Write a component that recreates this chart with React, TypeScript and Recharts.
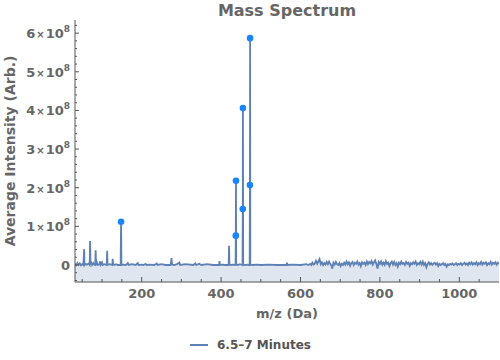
import React from 'react';
import { ComposedChart, Area, Scatter, XAxis, YAxis } from 'recharts';

// intensities in units of 1e6 (Arb.)
const lowMassSignal: [number, number][] = [
  [32, 3], [35, -1], [38, 5], [41, 0], [44, 4], [47, -1], [50, 2],
  [53, 0], [55, 41], [56, 0], [58, 3], [62, 1], [66, 4],
  [69, 0], [70, 62], [71, 2], [73, 6], [75, 0], [78, 5], [80, 1],
  [83, 0], [84, 38], [85, 0], [87, 7], [89, 0],
  [93, 1], [95, 9], [97, 1], [100, 7], [102, 0], [106, 2],
  [112, 0], [113, 37], [114, 2], [117, 1], [120, 2],
  [126, 0], [127, 16], [128, 4], [131, 0], [136, 2], [140, 0],
  [147, 0], [148, 112], [149, 0], [153, 1], [160, 0], [165, 5], [167, 0],
  [175, 2], [185, 0], [190, 5], [192, 0], [200, 1], [205, 0], [210, 3], [212, 0],
  [220, 1], [232, 0], [238, 4], [240, 0], [250, 2], [260, 0],
  [273, 0], [275, 18], [276, 5], [278, 1], [282, 0], [290, 3], [295, 6], [297, 0],
  [310, 2], [330, 0], [335, 4], [337, 0], [345, 3], [350, 0], [365, 2], [380, 0],
];

const peakClusterSignal: [number, number][] = [
  [395, 0], [396, 10], [397, 0], [405, 1], [410, 0],
  [419, 0], [420, 50], [421, 2], [424, 0], [430, 1],
  [436.5, 0], [437, 76], [437.5, 218], [438, 3], [440, 1], [443, 0], [447, 2],
  [454, 0], [454.6, 145], [455, 406], [455.6, 0], [458, 1], [462, 0], [466, 1], [470, 0],
  [472, 0], [472.6, 207], [473, 587], [473.6, 0], [476, 1], [480, 0], [490, 1], [500, 0],
  [520, 1], [540, 0], [555, 0], [565, 0], [566, 6], [567, 0], [580, 1], [600, 0], [615, 2], [620, 0],
];

const highMassNoise: [number, number][] = [
  [624, 3], [627, 0], [630, 6], [633, 1], [636, 4], [639, 11], [642, 3], [645, 9], [648, 15], [651, 2],
  [654, 7], [657, 0], [660, 5], [663, 1], [666, 8], [669, 2], [672, 9], [675, 3], [678, -2], [680, -9],
  [683, 6], [686, 1], [689, 8], [692, 2], [695, 0], [698, 5], [701, -3], [704, 3], [707, 0], [710, 6],
  [713, 1], [716, 9], [719, 2], [722, 7], [725, -2], [728, 5], [731, 8], [734, 0], [737, 6], [740, 3],
  [743, 9], [746, 1], [749, 5], [752, -3], [755, 7], [758, 3], [761, 6], [764, 0], [767, 9], [770, 2],
  [773, 8], [776, 4], [779, 10], [782, 1], [785, 7], [788, 12], [791, 3], [794, -9], [797, 8], [800, 3],
  [803, 9], [806, 1], [809, 6], [812, 0], [815, 10], [818, 3], [821, 6], [824, -3], [827, 5], [830, 9],
  [833, 1], [836, 8], [839, 0], [842, 5], [845, -4], [848, 6], [851, 2], [854, 9], [857, 3], [860, 5],
  [863, 0], [866, 8], [869, 3], [872, 6], [875, -2], [878, 5], [881, 2], [884, 7], [887, 3], [890, 9],
  [893, 0], [896, 5], [899, 2], [902, 8], [905, 1], [908, 9], [911, 0], [914, 5], [917, -6], [920, 3],
  [923, 7], [926, 1], [929, 5], [932, 0], [935, 4], [938, 6], [941, 1], [944, 5], [947, -3], [950, 3],
  [953, 0], [956, 2], [959, 5], [962, 0], [965, 3], [968, -4], [971, 2], [974, 0], [977, 3], [980, 1],
  [983, 4], [986, 0], [989, 2], [992, 5], [995, 0], [998, 3], [1001, 1], [1004, 5], [1007, 0], [1010, 3],
  [1013, 6], [1016, 1], [1019, 4], [1022, 0], [1025, 6], [1028, 2], [1031, 7], [1034, 1], [1037, 5], [1040, 2],
  [1043, 7], [1046, 0], [1049, 5], [1052, 2], [1055, 8], [1058, 1], [1061, 6], [1064, 3], [1067, 7], [1070, 0],
  [1073, 5], [1076, 2], [1079, 8], [1082, 1], [1085, 6], [1088, 3], [1091, 7], [1094, 1], [1097, 6], [1100, 3],
];

const labeledPeaks: [number, number][] = [
  [148, 112], [437, 76], [437.5, 218], [454.6, 145], [455, 406], [472.6, 207], [473, 587],
];

const xTicks = [50, 100, 150, 200, 250, 300, 350, 400, 450, 500, 550, 600, 650, 700, 750, 800, 850, 900, 950, 1000, 1050];
const xMajor = [200, 400, 600, 800, 1000];
const yTicks = [-40, -20, 0, 20, 40, 60, 80, 100, 120, 140, 160, 180, 200, 220, 240, 260, 280, 300, 320, 340, 360, 380, 400, 420, 440, 460, 480, 500, 520, 540, 560, 580, 600, 620];
const yMajor = [0, 100, 200, 300, 400, 500, 600];

const titleText = 'Mass Spectrum';
const xLabel = 'm/z (Da)';
const yLabel = 'Average Intensity (Arb.)';
const seriesName = '6.5–7 Minutes';

const LINE = '#5E81B5';
const DOT = '#1a85ff';
const TEXT = '#666666';
const AXIS = '#555555';
const FONT = '"DejaVu Sans", sans-serif';

const spectrum = [...lowMassSignal, ...peakClusterSignal, ...highMassNoise].map(([mz, i]) => ({ mz, i }));
const dots = labeledPeaks.map(([mz, i]) => ({ mz, i }));

const YTick = (props: any) => {
  const { x, y, payload } = props;
  const v = payload.value;
  const major = yMajor.includes(v);
  return (
    <g>
      <line x1={x} x2={x + (major ? 4 : 2)} y1={y} y2={y} stroke={AXIS} strokeWidth={1} />
      {major && (
        <text x={x - 5} y={y + 5} textAnchor="end" fill={TEXT} fontFamily={FONT} fontWeight="bold" fontSize={13}>
          {v === 0 ? (
            '0'
          ) : (
            <>
              <tspan>{v / 100}</tspan>
              <tspan fontSize={10} dx={1}>×</tspan>
              <tspan dx={1}>10</tspan>
              <tspan fontSize={9} dy={-6}>8</tspan>
            </>
          )}
        </text>
      )}
    </g>
  );
};

const XTick = (props: any) => {
  const { x, y, payload } = props;
  const v = payload.value;
  const major = xMajor.includes(v);
  return (
    <g>
      <line x1={x} x2={x} y1={y} y2={y - (major ? 5 : 3)} stroke={AXIS} strokeWidth={1} />
      {major && (
        <text x={x} y={y + 16} textAnchor="middle" fill={TEXT} fontFamily={FONT} fontWeight="bold" fontSize={13}>
          {v}
        </text>
      )}
    </g>
  );
};

export default function App() {
  return (
    <div style={{ position: 'absolute', left: 0, top: 0, width: 500, height: 360, background: '#fff', fontFamily: FONT }}>
      <ComposedChart width={500} height={360} data={spectrum} margin={{ top: 20, right: 1, left: 0, bottom: 0 }}>
        <XAxis
          dataKey="mz"
          type="number"
          domain={[32, 1100]}
          allowDataOverflow
          ticks={xTicks}
          interval={0}
          tick={<XTick />}
          tickLine={false}
          tickSize={0}
          tickMargin={0}
          height={78}
          axisLine={{ stroke: AXIS }}
          label={{ value: xLabel, position: 'insideTop', offset: 27, fill: TEXT, fontSize: 13, fontWeight: 'bold', fontFamily: FONT }}
        />
        <YAxis
          type="number"
          domain={[-44, 634]}
          allowDataOverflow
          ticks={yTicks}
          interval={0}
          tick={<YTick />}
          tickLine={false}
          tickSize={0}
          tickMargin={0}
          width={75}
          axisLine={{ stroke: AXIS }}
          label={{ value: yLabel, angle: -90, position: 'insideLeft', offset: 0, dx: 10, fill: TEXT, fontSize: 14, fontWeight: 'bold', fontFamily: FONT, style: { textAnchor: 'middle' } }}
        />
        <Area
          type="linear"
          dataKey="i"
          baseValue={-44}
          stroke={LINE}
          strokeWidth={1.8}
          fill={LINE}
          fillOpacity={0.2}
          dot={false}
          activeDot={false}
          isAnimationActive={false}
        />
        <Scatter
          data={dots}
          dataKey="i"
          isAnimationActive={false}
          shape={(p: any) => <circle cx={p.cx} cy={p.cy} r={3.3} fill={DOT} />}
        />
      </ComposedChart>
      <div style={{ position: 'absolute', left: 287, top: 1, transform: 'translateX(-50%)', whiteSpace: 'nowrap', fontSize: 16, lineHeight: '20px', fontWeight: 'bold', color: TEXT }}>
        {titleText}
      </div>
      <div style={{ position: 'absolute', left: 190, top: 337, display: 'flex', alignItems: 'center', whiteSpace: 'nowrap' }}>
        <div style={{ width: 18, height: 2, background: LINE, marginRight: 9 }} />
        <span style={{ fontSize: 12, lineHeight: '16px', fontWeight: 'bold', color: '#555' }}>{seriesName}</span>
      </div>
    </div>
  );
}
